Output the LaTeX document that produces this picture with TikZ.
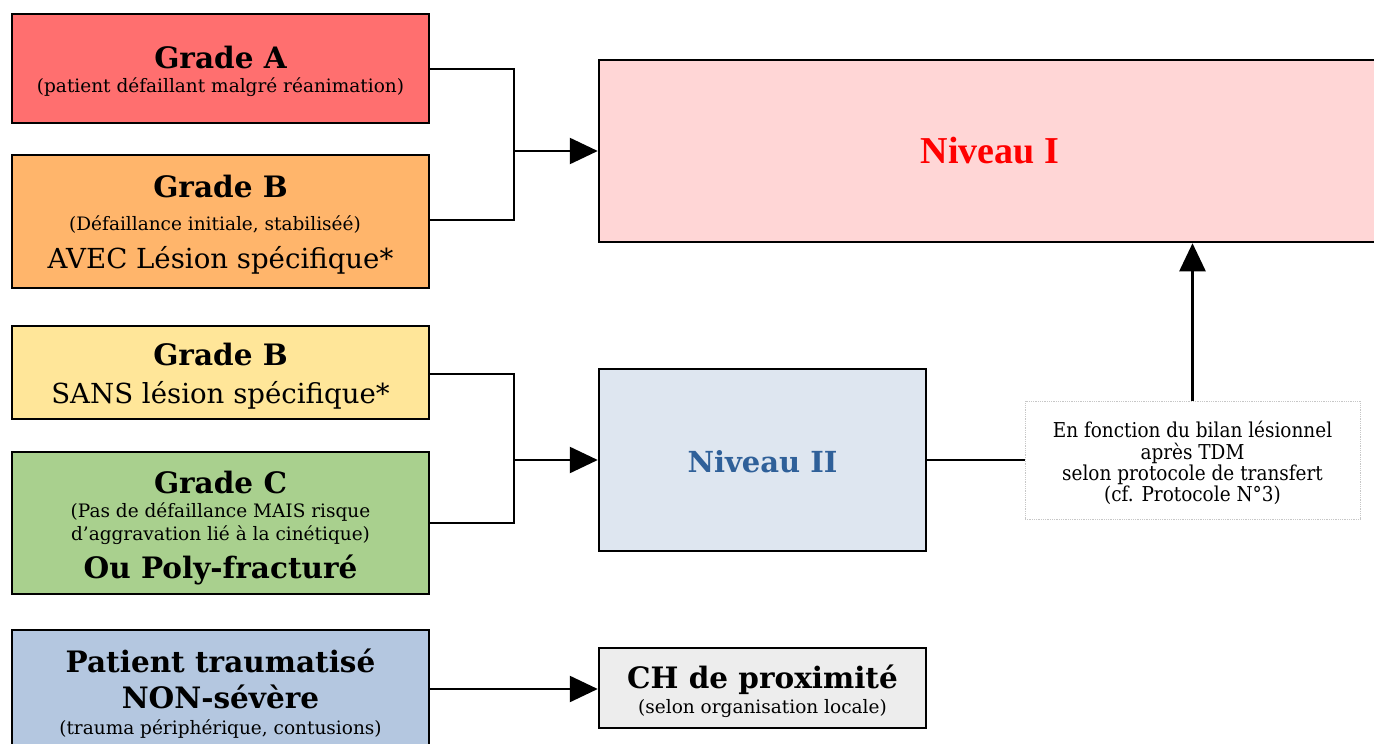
\documentclass[tikz,border=0pt]{standalone}
\usepackage{fontspec}
\setmainfont{DejaVu Serif}
\newfontfamily\timesf{Liberation Serif}
\newfontfamily\condf[FakeStretch=0.9]{DejaVu Serif}
\usetikzlibrary{arrows.meta}
\definecolor{cA}{HTML}{FF6F6F}
\definecolor{cB}{HTML}{FFB56B}
\definecolor{cY}{HTML}{FFE699}
\definecolor{cC}{HTML}{A9D08E}
\definecolor{cP}{HTML}{B4C7E0}
\definecolor{cN1}{HTML}{FFD6D6}
\definecolor{cN2}{HTML}{DEE6F0}
\definecolor{cCH}{HTML}{EDEDED}
\definecolor{tN2}{HTML}{2F6099}
\begin{document}
\begin{tikzpicture}[x=1pt,y=-1pt,
  box/.style={draw=black,line width=2.5pt,inner sep=0pt,anchor=center},
  hd/.style={anchor=base,inner sep=0pt,font=\fontsize{29.5}{33}\selectfont\bfseries},
  sm/.style={anchor=base,inner sep=0pt,font=\fontsize{18.5}{22}\selectfont},
  md/.style={anchor=base,inner sep=0pt,font=\fontsize{27.6}{31}\selectfont},
  nt/.style={anchor=base,inner sep=0pt,font=\condf\fontsize{20.5}{24}\selectfont},
  conn/.style={line width=2.5pt},
  arr/.style={line width=2.5pt,-{Triangle[length=28pt,width=26pt]}}]
\useasboundingbox (0,0) rectangle (1374,744);
\clip (0,0) rectangle (1374,744);
% boxes
\node[box,fill=cA,minimum width=417pt,minimum height=109pt] (ga) at (220.5,68.5) {};
\node[box,fill=cB,minimum width=417pt,minimum height=133pt] (gb) at (220.5,221.5) {};
\node[box,fill=cY,minimum width=417pt,minimum height=93pt] (gy) at (220.5,372.5) {};
\node[box,fill=cC,minimum width=417pt,minimum height=142pt] (gc) at (220.5,523) {};
\node[box,fill=cP,minimum width=417pt,minimum height=134pt] (gp) at (220.5,697) {};
\node[box,fill=cN1,minimum width=791pt,minimum height=182pt] (n1) at (994.5,151) {};
\node[box,fill=cN2,minimum width=327pt,minimum height=182pt] (n2) at (762.5,460) {};
\node[box,fill=cCH,minimum width=327pt,minimum height=80pt] (ch) at (762.5,688) {};
\node[draw=black!22,densely dotted,line width=0.8pt,minimum width=335pt,minimum height=118pt,inner sep=0pt] (note) at (1192.5,460) {};
% texts
\node[hd] (ta1) at (220.5,68) {Grade A};
\node[sm] (ta2) at (220.5,92) {(patient défaillant malgré réanimation)};
\node[hd] (tb1) at (220.5,197) {Grade B};
\node[sm] (tb2) at (215,230) {(Défaillance initiale, stabiliséé)};
\node[md] (tb3) at (220.5,268) {AVEC Lésion spécifique*};
\node[hd] (ty1) at (220.5,365) {Grade B};
\node[md] (ty2) at (220.5,403) {SANS lésion spécifique*};
\node[hd] (tc1) at (220.5,493) {Grade C};
\node[sm] (tc2) at (220.5,517) {(Pas de défaillance MAIS risque};
\node[sm] (tc3) at (220.5,540) {d’aggravation lié à la cinétique)};
\node[hd] (tc4) at (220.5,578) {Ou Poly-fracturé};
\node[hd] (tp1) at (220.5,672) {Patient traumatisé};
\node[hd] (tp2) at (220.5,708) {NON-sévère};
\node[sm] (tp3) at (220.5,734) {(trauma périphérique, contusions)};
\node[anchor=base,inner sep=0pt,text=red,font=\timesf\fontsize{38}{42}\selectfont\bfseries] (tn1) at (990,163) {Niveau I};
\node[anchor=base,inner sep=0pt,text=tN2,font=\fontsize{29}{33}\selectfont\bfseries] (tn2) at (762.5,472) {Niveau II};
\node[hd] (tch1) at (762.5,688) {CH de proximité};
\node[sm] (tch2) at (762.5,713) {(selon organisation locale)};
\node[nt] (tn1l) at (1192.5,437) {En fonction du bilan lésionnel};
\node[nt] (tn2l) at (1192.5,459) {après TDM};
\node[nt] (tn3l) at (1192.5,480) {selon protocole de transfert};
\node[nt] (tn4l) at (1192.5,501) {(cf. Protocole N°3)};
% connectors
\coordinate (j1) at (514,151);
\coordinate (j2) at (514,460);
\draw[conn] (ga.east |- 0,69) -| (j1) |- (gb.east |- 0,220);
\draw[arr] (j1) -- (n1.west |- j1);
\draw[conn] (gy.east |- 0,374) -| (j2) |- (gc.east |- 0,523);
\draw[arr] (j2) -- (n2.west);
\draw[arr] (gp.east |- 0,689) -- (ch.west |- 0,689);
\draw[conn] (n2.east) -- (note.west);
\draw[arr] (note.north) -- (note.north |- n1.south);
\end{tikzpicture}
\end{document}
